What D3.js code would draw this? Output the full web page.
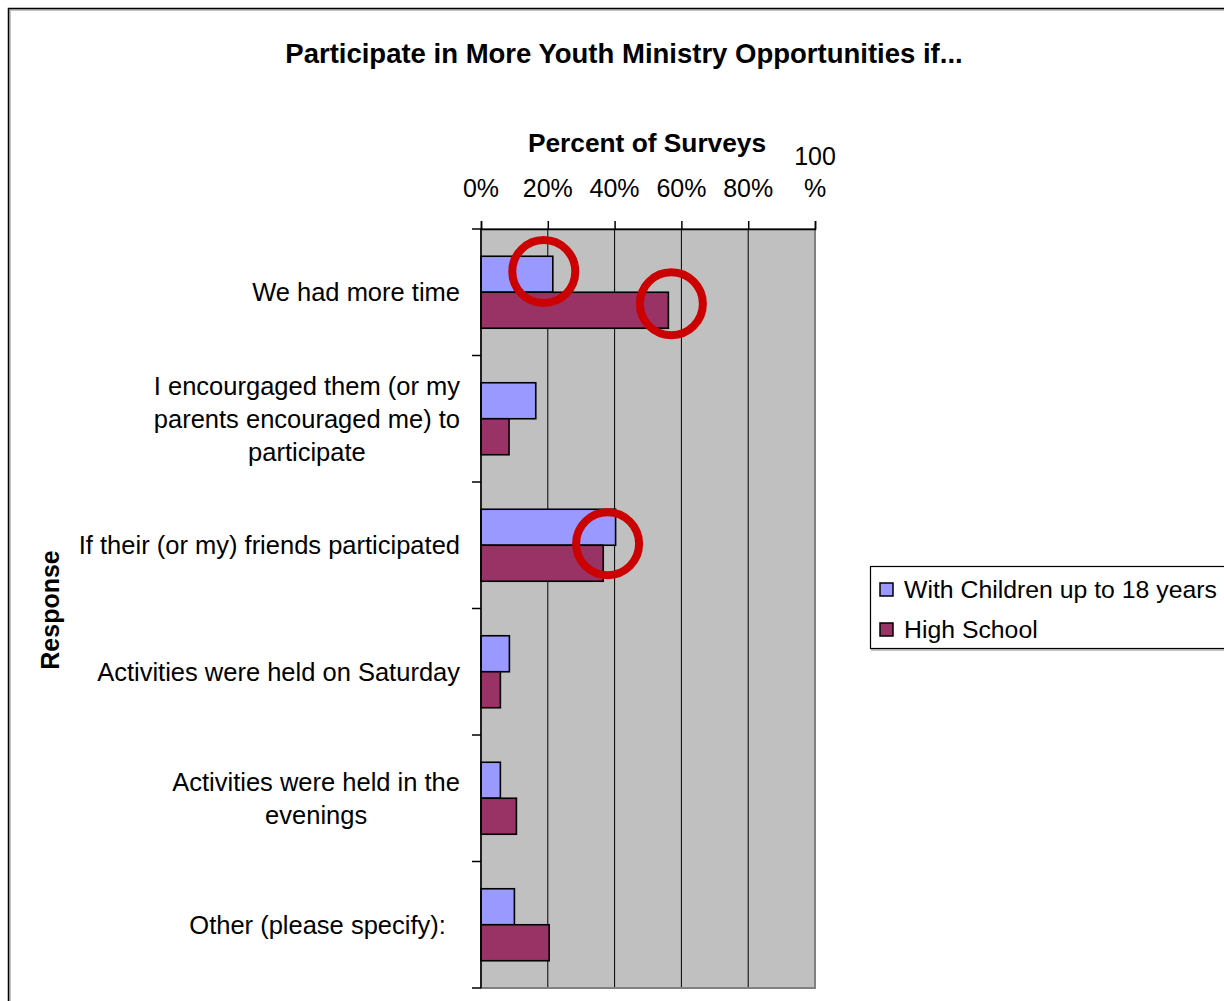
<!DOCTYPE html>
<html>
<head>
<meta charset="utf-8">
<script src="https://cdn.jsdelivr.net/npm/d3@7"></script>
<style>
  html, body { margin: 0; padding: 0; background: #fff; }
  svg { display: block; font-family: Arial, "Liberation Sans", sans-serif; }
</style>
</head>
<body>
<svg id="chart" width="1224" height="1001"></svg>
<script>
// Survey responses (percent of surveys)
const categories = [
  "We had more time",
  "I encourgaged them (or my|parents encouraged me) to|participate",
  "If their (or my) friends participated",
  "Activities were held on Saturday",
  "Activities were held in the|evenings",
  "Other (please specify):  "
];
const seriesNames = ["With Children up to 18 years", "High School"];
const parentsValues = [21.5, 16.4, 40.3, 8.5, 5.8, 10.0];
const highSchoolValues = [56.1, 8.4, 36.6, 5.8, 10.6, 20.4];
const seriesColors = ["#9999FF", "#993366"];
const tickValues = [0, 20, 40, 60, 80, 100];
const tickLabels = ["0%", "20%", "40%", "60%", "80%", "100|%"];

// Highlight rings: category, vertical position within the row (0..1), percent
const ringCategories = [categories[0], categories[0], categories[2]];
const ringRowPos = [0.336, 0.591, 0.488];
const ringPct = [18.8, 57.0, 37.9];

const svg = d3.select("#chart");
const plot = { left: 481, right: 815, top: 229, bottom: 988 };
const labelSize = 25.5;

const x = d3.scaleLinear().domain([0, 100]).range([plot.left, plot.right]);
const y = d3.scaleBand().domain(categories).range([plot.top, plot.bottom]).padding(0);
const ySeries = d3.scaleBand().domain(d3.range(seriesNames.length))
  .range([0, y.bandwidth()]).paddingInner(0).paddingOuter(0.757);

// Outer chart frame
svg.append("rect").attr("x", 10).attr("y", 10).attr("width", 1300).attr("height", 1100)
  .attr("fill", "none").attr("stroke", "#b0b0b0").attr("stroke-width", 1.5);
svg.append("rect").attr("x", 8.5).attr("y", 8.5).attr("width", 1300).attr("height", 1100)
  .attr("fill", "none").attr("stroke", "#000").attr("stroke-width", 1.5);

// Title
svg.append("text").attr("x", 624).attr("y", 63).attr("text-anchor", "middle")
  .attr("font-size", 27.5).attr("font-weight", "bold").text("Participate in More Youth Ministry Opportunities if...");

// Plot background
svg.append("rect").attr("x", plot.left).attr("y", plot.top)
  .attr("width", plot.right - plot.left).attr("height", plot.bottom - plot.top)
  .attr("fill", "#C0C0C0");

// Vertical gridlines
svg.append("g").selectAll("line").data(tickValues.slice(1, -1)).join("line")
  .attr("x1", d => x(d)).attr("x2", d => x(d))
  .attr("y1", plot.top).attr("y2", plot.bottom)
  .attr("stroke", "#000").attr("stroke-width", 1);

// Plot border
svg.append("rect").attr("x", plot.left).attr("y", plot.top)
  .attr("width", plot.right - plot.left).attr("height", plot.bottom - plot.top)
  .attr("fill", "none").attr("stroke", "#808080").attr("stroke-width", 2);

// Bars
const seriesValues = [parentsValues, highSchoolValues];
seriesValues.forEach((vals, si) => {
  svg.append("g").selectAll("rect").data(categories).join("rect")
    .attr("x", x(0))
    .attr("y", (c) => y(c) + ySeries(si))
    .attr("width", (c, i) => x(vals[i]) - x(0))
    .attr("height", ySeries.bandwidth())
    .attr("fill", seriesColors[si])
    .attr("stroke", "#000").attr("stroke-width", 1.6);
});

// Top value axis
const xAxis = d3.axisTop(x).tickValues(tickValues).tickSize(8).tickFormat("");
const gx = svg.append("g").attr("transform", `translate(0,${plot.top})`).call(xAxis);
gx.select(".domain").attr("stroke", "#000").attr("stroke-width", 1.5);
gx.selectAll(".tick line").attr("stroke", "#000").attr("stroke-width", 1.5);

const tickText = svg.append("g").selectAll("text").data(tickValues).join("text")
  .attr("x", d => x(d)).attr("text-anchor", "middle").attr("font-size", 25);
tickText.each(function(d, i) {
  const lines = tickLabels[i].split("|");
  const t = d3.select(this);
  lines.forEach((ln, j) => {
    t.append("tspan").attr("x", x(d))
      .attr("y", 197 - (lines.length - 1 - j) * 32).text(ln);
  });
});

// Axis title
svg.append("text").attr("x", 647).attr("y", 152).attr("text-anchor", "middle")
  .attr("font-size", 26.3).attr("font-weight", "bold").text("Percent of Surveys");

// Left category axis: line and ticks at row boundaries
svg.append("line").attr("x1", plot.left).attr("x2", plot.left)
  .attr("y1", plot.top).attr("y2", plot.bottom)
  .attr("stroke", "#000").attr("stroke-width", 1.5);
const boundaries = categories.map(c => y(c)).concat([y.range()[1]]);
svg.append("g").selectAll("line").data(boundaries).join("line")
  .attr("x1", plot.left - 9).attr("x2", plot.left)
  .attr("y1", d => d).attr("y2", d => d)
  .attr("stroke", "#000").attr("stroke-width", 1.5);

// Category labels (multi-line blocks centred, right-aligned to the axis)
const labelRight = 460;
const lineH = 33;
categories.forEach(c => {
  const lines = c.split("|");
  const g = svg.append("g");
  const texts = lines.map(ln => g.append("text").attr("font-size", labelSize)
    .style("white-space", "pre").text(ln));
  const maxW = d3.max(texts, t => t.node().getComputedTextLength());
  const cx = labelRight - maxW / 2;
  const cy = y(c) + y.bandwidth() / 2;
  texts.forEach((t, j) => {
    t.attr("x", cx).attr("text-anchor", "middle")
      .attr("y", cy + 9 + (j - (lines.length - 1) / 2) * lineH);
  });
});

// Vertical axis title
svg.append("text").attr("transform", "translate(59,610) rotate(-90)")
  .attr("text-anchor", "middle").attr("font-size", 25).attr("font-weight", "bold")
  .text("Response");

// Legend
const lg = svg.append("g");
lg.append("rect").attr("x", 872).attr("y", 568).attr("width", 400).attr("height", 82)
  .attr("fill", "none").attr("stroke", "#b0b0b0").attr("stroke-width", 1.5);
lg.append("rect").attr("x", 870.5).attr("y", 566.5).attr("width", 400).attr("height", 82)
  .attr("fill", "#fff").attr("stroke", "#000").attr("stroke-width", 1.2);
seriesNames.forEach((name, i) => {
  const ly = 590 + i * 40;
  lg.append("rect").attr("x", 880).attr("y", ly - 7).attr("width", 13).attr("height", 13)
    .attr("fill", seriesColors[i]).attr("stroke", "#000").attr("stroke-width", 1.5);
  lg.append("text").attr("x", 904).attr("y", ly + 8).attr("font-size", 24.8).text(name);
});

// Highlight rings
svg.append("g").selectAll("circle").data(ringPct).join("circle")
  .attr("cx", d => x(d))
  .attr("cy", (d, i) => y(ringCategories[i]) + y.bandwidth() * ringRowPos[i])
  .attr("r", 31.5)
  .attr("fill", "none").attr("stroke", "#CC0000").attr("stroke-width", 8);
</script>
</body>
</html>
